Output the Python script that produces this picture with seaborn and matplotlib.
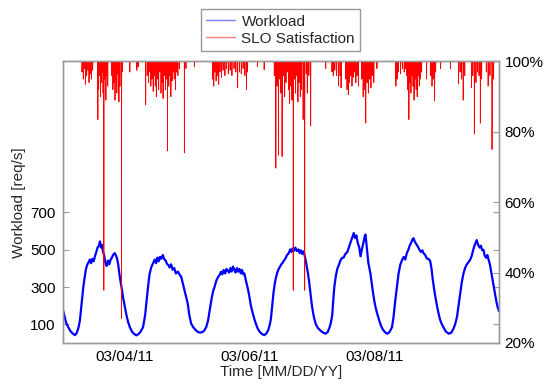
import numpy as np
import pandas as pd
import matplotlib
matplotlib.use("Agg")
import matplotlib.pyplot as plt
import matplotlib.dates as mdates
from matplotlib.lines import Line2D
from matplotlib.ticker import FuncFormatter
import seaborn as sns

# ---------------- data ----------------
start_date = "2011-03-03"
n_days = 7

# workload trace (hours since start, req/s)
wl_hours = [0, 0.5, 1.0, 1.5, 2.2, 3.0, 3.8, 4.8, 5.5, 6.2, 6.7, 7.2, 7.6, 8.0, 8.5, 9.0, 9.5,
            10.0, 10.5, 11.0, 11.5, 12.0, 12.5, 13.0, 13.5, 14.0, 14.4, 14.8, 15.2, 15.6, 16.0,
            16.5, 17.0, 17.5, 18.0, 18.5, 19.0, 19.5, 20.1, 20.6, 21.0, 21.4, 21.8, 22.2, 22.7,
            23.3, 24.0, 24.6, 25.2, 25.9, 26.8, 27.6, 28.4, 29.3, 30.1, 31.0, 31.8, 32.4, 32.9,
            33.5, 34.2, 35.0, 35.5, 36.0, 36.5, 37.0, 37.5, 38.0, 38.6, 39.2, 39.7, 40.3, 40.8,
            41.2, 41.8, 42.4, 43.0, 43.6, 44.4, 45.0, 45.7, 46.3, 47.0, 47.6, 48.2, 48.8, 49.5,
            50.3, 51.2, 52.2, 53.2, 54.0, 54.6, 55.3, 56.0, 56.7, 57.4, 58.0, 58.5, 59.2, 59.8,
            60.4, 61.0, 61.5, 62.0, 62.6, 63.1, 63.6, 64.1, 64.6, 65.1, 65.6, 66.1, 66.6, 67.1,
            67.6, 68.1, 68.6, 69.1, 69.6, 70.0, 70.5, 71.0, 71.5, 71.9, 72.5, 73.2, 73.8, 74.5,
            75.2, 76.0, 76.8, 77.6, 78.4, 79.2, 79.8, 80.2, 80.7, 81.2, 81.7, 82.2, 82.7, 83.2,
            83.7, 84.2, 84.7, 85.2, 85.8, 86.4, 87.0, 87.6, 88.1, 88.5, 89.0, 89.6, 90.2, 90.8,
            91.3, 91.7, 92.2, 92.6, 93.0, 93.5, 94.0, 94.5, 94.9, 95.4, 95.9, 96.4, 96.8, 97.5,
            98.3, 99.4, 100.4, 101.3, 102.1, 102.8, 103.3, 103.8, 104.2, 104.6, 105.2, 105.8,
            106.4, 107.0, 107.6, 108.2, 108.8, 109.6, 110.2, 110.8, 111.4, 112.1, 112.6, 113.1,
            113.6, 114.2, 114.7, 115.2, 115.8, 116.3, 116.6, 116.9, 117.3, 117.7, 118.1, 118.5,
            119.0, 119.5, 120.0, 120.5, 121.1, 121.8, 122.5, 123.3, 124.1, 124.9, 125.6, 126.2,
            126.8, 127.4, 128.0, 128.7, 129.3, 130.0, 130.6, 131.3, 131.9, 132.5, 133.1, 133.6,
            134.2, 134.7, 135.1, 135.6, 136.1, 136.7, 137.3, 137.9, 138.5, 139.0, 139.6, 140.2,
            140.8, 141.5, 142.0, 142.5, 143.0, 143.5, 144.1, 144.7, 145.3, 146.0, 146.6, 147.5,
            148.6, 149.6, 150.4, 151.1, 151.8, 152.4, 153.0, 153.6, 154.3, 155.0, 155.6, 156.2,
            156.9, 157.5, 158.1, 158.7, 159.4, 159.9, 160.5, 161.0, 161.5, 162.0, 162.5, 163.0,
            163.5, 164.0, 164.5, 165.0, 165.5, 166.0, 166.5, 167.0, 167.5, 168.0]
wl_values = [184, 160, 130, 105, 85, 65, 52, 42, 55, 85, 122, 190, 250, 300, 350, 395, 420,
             432, 448, 428, 452, 438, 466, 488, 512, 522, 545, 512, 527, 489, 472,
             432, 413, 442, 422, 447, 458, 473, 482, 468, 452, 425, 380, 340, 300,
             245, 193, 150, 115, 85, 60, 48, 41, 48, 62, 85, 150, 230, 300,
             370, 408, 432, 448, 428, 458, 438, 462, 452, 472, 448, 442, 422, 418,
             405, 422, 393, 402, 373, 383, 368, 354, 320, 280, 245, 211, 150, 104,
             85, 70, 58, 56, 60, 68, 85, 120, 180, 240, 280, 300, 335, 352,
             364, 382, 368, 392, 373, 397, 388, 378, 402, 383, 410, 393, 378, 402,
             383, 397, 373, 392, 368, 373, 340, 310, 280, 250, 200, 160, 130, 100,
             75, 58, 48, 42, 50, 70, 100, 130, 200, 270, 320, 355, 380, 397,
             410, 422, 430, 442, 453, 472, 480, 502, 488, 507, 493, 512, 493, 502,
             483, 497, 478, 492, 480, 450, 410, 370, 330, 270, 210, 165, 135, 100,
             80, 65, 55, 50, 60, 85, 110, 150, 230, 300, 360, 400,
             420, 444, 457, 458, 477, 488, 512, 538, 562, 590, 563, 577,
             538, 512, 465, 502, 538, 572, 582, 540, 480, 430, 400, 373,
             320, 270, 225, 190, 158, 125, 95, 72, 58, 50, 55, 68,
             85, 140, 220, 300, 370, 420, 442, 462, 448, 482, 500, 522,
             538, 557, 562, 543, 532, 518, 502, 488, 497, 480, 472, 453,
             452, 440, 400, 340, 290, 247, 200, 160, 125, 100, 85, 62,
             50, 55, 75, 100, 139, 200, 260, 320, 373, 405, 422, 433,
             446, 468, 502, 528, 552, 528, 512, 522, 498, 500, 468, 457,
             472, 445, 420, 380, 340, 300, 260, 220, 190, 170]

# SLO satisfaction dips (hours since start, %); 100% elsewhere
slo_dip_hours = [7.5, 8.0, 8.4, 8.8, 9.3, 9.8, 10.2, 10.7, 11.1, 11.6,
                 13.6, 13.9, 14.3, 14.6, 15.0, 15.3, 15.6, 15.9, 16.3, 16.7, 17.0, 17.4,
                 19.0, 19.4, 19.8, 20.2, 20.5, 20.9, 21.3, 21.7, 22.1, 22.7, 23.0,
                 25.9, 28.6, 29.1,
                 32.0, 32.6, 33.1, 33.5, 34.0, 34.4, 34.9, 35.3, 35.7, 36.1, 36.6, 37.0,
                 37.4, 37.9, 38.3, 38.7, 39.1, 39.6, 40.0, 40.4, 40.9, 41.3, 41.7, 42.2,
                 42.6, 43.0, 43.5, 43.9, 44.4, 45.0, 46.9, 47.5,
                 50.8,
                 57.7, 58.2, 58.6, 59.1, 59.6, 60.1, 60.6, 61.2, 61.8, 62.5, 63.1, 63.8,
                 64.5, 65.2, 66.0, 66.7, 67.4, 68.1, 68.8, 69.5, 70.2, 70.8, 71.2,
                 75.0, 77.6,
                 81.5, 82.1, 82.6, 83.1, 83.5, 84.0, 84.5, 85.0, 85.5, 86.0, 86.5, 87.0,
                 87.4, 87.9, 88.3, 88.8, 89.3, 89.7, 90.2, 90.6, 91.1, 91.5, 92.0, 92.6,
                 93.2, 93.8, 94.2, 94.8, 95.5,
                 101.3,
                 103.7, 104.2, 104.8, 105.5, 106.2, 106.8, 107.2,
                 109.0, 109.5, 110.0, 110.4, 110.9, 111.4, 111.9, 112.4, 112.9, 113.4, 113.9,
                 115.2, 115.7, 116.2, 116.7, 117.2, 117.7, 118.2, 118.7, 119.2, 119.8,
                 121.0,
                 128.3, 128.8, 129.3, 130.1, 130.8, 131.5, 132.1,
                 132.5, 132.9, 133.3, 133.7, 134.1, 134.5, 134.9, 135.3, 135.7, 136.1,
                 136.5, 136.9, 137.3, 137.8, 138.2,
                 140.1, 141.7, 142.2, 142.7, 143.2, 143.6, 145.5, 149.3,
                 152.4, 153.0, 153.6, 154.2, 154.8,
                 157.4, 157.9, 158.5, 159.1, 159.7, 160.3, 160.8, 161.3,
                 163.1, 163.8, 164.5, 165.3, 165.9]
slo_dip_values = [97, 95, 98, 93.5, 96, 97.5, 94, 96.5, 95, 97.5,
                  83.5, 92, 96, 90, 94, 97, 91, 35, 95, 89, 96, 93,
                  96, 92, 94, 89, 95, 91, 96.5, 88.5, 93, 27, 97,
                  97, 97.5, 98.5,
                  87.7, 96, 94, 97, 93, 95, 91.5, 96, 93, 90, 95, 92,
                  97, 91, 94, 89.5, 96, 92, 95, 74.6, 93, 96, 90, 94.5,
                  97, 95, 92, 97, 96, 98, 74, 98,
                  98.5,
                  95, 93, 97, 94.5, 96, 93.5, 97, 95.5, 97.5, 96, 98, 96.5,
                  97.5, 96, 98, 97, 92.5, 97, 96.5, 98, 96, 92, 97,
                  98.5, 97.7,
                  96, 69.7, 93, 73.4, 95, 91, 73, 96, 90, 94, 97, 92,
                  88, 93, 89, 35, 95, 91, 96, 88.5, 94, 90, 92, 83.5,
                  35, 96.5, 91, 96, 81.7,
                  98,
                  97, 95.9, 97.5, 96, 93, 96, 92.5,
                  95, 92, 90.6, 94, 96, 93, 95.5, 97, 94, 96, 93,
                  95, 90, 92, 82.5, 94, 91, 95, 92.5, 96, 94,
                  98,
                  93, 95, 97, 96.5, 98, 97, 98,
                  96, 92, 83.5, 94, 91, 96, 93, 89, 95, 92,
                  90, 96, 93, 95, 97,
                  95, 96, 93, 95, 88.8, 97, 98, 98,
                  93.7, 97, 95, 89, 96,
                  92.5, 96, 79.4, 94, 97, 96, 82.5, 95,
                  97, 93, 96, 75, 95]

left_ticks = [100, 300, 500, 700]
right_ticks = [20, 40, 60, 80, 100]
date_ticks = ["2011-03-04", "2011-03-06", "2011-03-08"]

# ---------------- build tables ----------------
base = pd.Timestamp(start_date)
wl_df = pd.DataFrame({"time": base + pd.to_timedelta(wl_hours, unit="h"),
                      "workload": wl_values})

step_per_hour = 30  # 2-minute grid
grid_hours = np.arange(n_days * 24 * step_per_hour + 1) / step_per_hour
slo = np.full(grid_hours.shape, 100.0)
for h, v in zip(slo_dip_hours, slo_dip_values):
    i = int(round(h * step_per_hour))
    slo[i] = min(slo[i], v)
slo_df = pd.DataFrame({"time": base + pd.to_timedelta(grid_hours, unit="h"),
                       "slo": slo})

# ---------------- style ----------------
sns.set_style("white")
plt.rcParams["font.family"] = ["Liberation Sans", "DejaVu Sans"]
FS = 11
spine_col = "#999999"

fig = plt.figure(figsize=(5.46, 3.88), dpi=100)
ax = fig.add_subplot(111)
fig.subplots_adjust(left=0.1145, right=0.914, bottom=0.116, top=0.8415)
ax2 = ax.twinx()

sns.lineplot(data=wl_df, x="time", y="workload", ax=ax, color="#0000ff",
             linewidth=1.6, estimator=None, legend=False)
sns.lineplot(data=slo_df, x="time", y="slo", ax=ax2, color="#ff0000",
             linewidth=0.6, estimator=None, legend=False)

ax.set_xlim(base, base + pd.Timedelta(days=n_days))
ax.set_ylim(0, 1510)
ax2.set_ylim(20, 100)

ax.set_yticks(left_ticks)
ax.set_yticklabels([str(t) for t in left_ticks], fontsize=FS)
ax2.set_yticks(right_ticks)
ax2.yaxis.set_major_formatter(FuncFormatter(lambda v, p: f"{int(v)}%"))
ax.set_xticks([pd.Timestamp(d) for d in date_ticks])
ax.xaxis.set_major_formatter(mdates.DateFormatter("%m/%d/%y"))

for a in (ax, ax2):
    a.tick_params(direction="in", length=4, width=0.8, color=spine_col,
                  labelcolor="black", labelsize=FS)
    for s in a.spines.values():
        s.set_color(spine_col)
        s.set_linewidth(1.0)
ax.tick_params(axis="y", right=True, pad=5)
ax.tick_params(axis="x", top=False, pad=5)
ax2.tick_params(axis="y", pad=4)

ax.set_xlabel("Time [MM/DD/YY]", fontsize=FS, labelpad=1)
ax.set_ylabel("Workload [req/s]", fontsize=FS, labelpad=3)
ax2.set_ylabel("")

handles = [Line2D([], [], color="#7f7fff", lw=1.0),
           Line2D([], [], color="#ff7f7f", lw=1.0)]
leg = fig.legend(handles, ["Workload", "SLO Satisfaction"], loc="upper center",
                 bbox_to_anchor=(0.514, 0.976), fontsize=FS, frameon=True,
                 fancybox=False, edgecolor=spine_col, framealpha=1,
                 handlelength=1.9, handletextpad=0.4, borderpad=0.35,
                 labelspacing=0.2, borderaxespad=0)
leg.get_frame().set_linewidth(1.0)

fig.savefig("out.png", dpi=100)
